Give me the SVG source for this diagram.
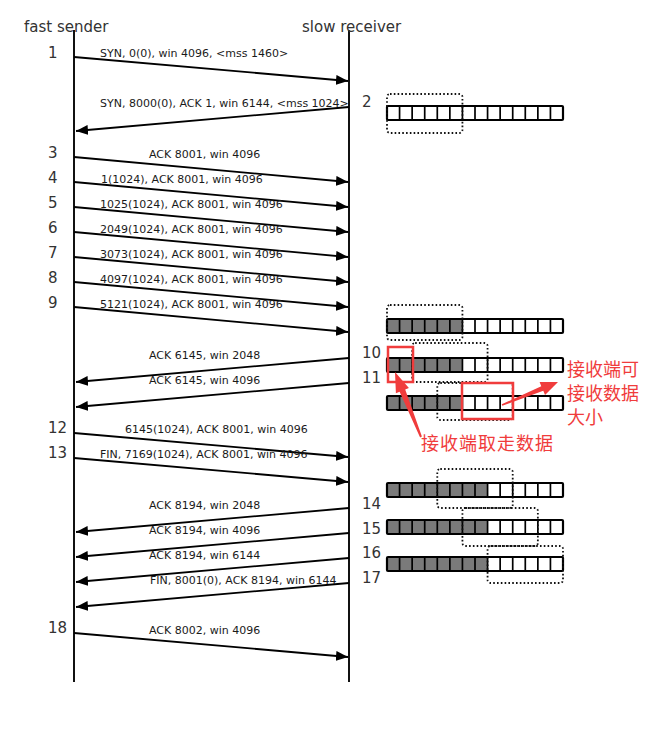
<svg xmlns="http://www.w3.org/2000/svg" xmlns:xlink="http://www.w3.org/1999/xlink" width="656" height="736" viewBox="0 0 656 736">
<style>
.hdr{font-family:"DejaVu Sans","Liberation Sans",sans-serif;font-size:15px;fill:#333}
.num{font-family:"DejaVu Sans","Liberation Sans",sans-serif;font-size:15px;fill:#333}
.lbl{font-family:"DejaVu Sans","Liberation Sans",sans-serif;font-size:11px;fill:#1a1a1a}
.life{stroke:#111;stroke-width:2;fill:none}
.msg{stroke:#000;stroke-width:1.8;fill:none;marker-end:url(#ah)}
.buf{fill:#fff}
.used{fill:#7a7a7a}
.grid{fill:none;stroke:#000;stroke-width:1.7}
.outer{fill:none;stroke:#000;stroke-width:2.2}
.win{fill:none;stroke:#111;stroke-width:1.8;stroke-dasharray:1.6 2.2}
.red{fill:none;stroke:#f03c3c;stroke-width:2.5}
.rtxt{font-family:"Noto Sans CJK SC","DejaVu Sans",sans-serif;font-size:18px;fill:#f03c3c}
.rarrow{fill:#f03c3c}
</style>
<defs>
<marker id="ah" markerUnits="userSpaceOnUse" markerWidth="13" markerHeight="10" refX="12" refY="5" orient="auto">
<path d="M0,0 L12,5 L0,10 z" fill="#000"/>
</marker>
<g id="cells">
<path class="grid" d="M399.57,0V14M412.14,0V14M424.71,0V14M437.29,0V14M449.86,0V14M462.43,0V14M475,0V14M487.57,0V14M500.14,0V14M512.71,0V14M525.29,0V14M537.86,0V14M550.43,0V14"/>
<rect class="outer" x="387" y="0" width="176" height="14" rx="1"/>
</g>
</defs>
<rect x="0" y="0" width="656" height="736" fill="#fff"/>

<g id="lifelines">
<line class="life" x1="74" y1="30" x2="74" y2="682"/>
<line class="life" x1="349" y1="30" x2="349" y2="682"/>
</g>

<g id="sender">
<text class="hdr" x="24" y="32">fast sender</text>
</g>
<g id="receiver">
<text class="hdr" x="302" y="32">slow receiver</text>
</g>

<g id="connectors">
<line class="msg" x1="74" y1="57" x2="348" y2="81"/>
<line class="msg" x1="349" y1="107" x2="76" y2="131"/>
<line class="msg" x1="74" y1="157" x2="348" y2="182"/>
<line class="msg" x1="74" y1="182" x2="348" y2="207"/>
<line class="msg" x1="74" y1="207" x2="348" y2="232"/>
<line class="msg" x1="74" y1="232" x2="348" y2="257"/>
<line class="msg" x1="74" y1="257" x2="348" y2="282"/>
<line class="msg" x1="74" y1="282" x2="348" y2="307"/>
<line class="msg" x1="74" y1="307" x2="348" y2="332"/>
<line class="msg" x1="349" y1="358" x2="76" y2="382"/>
<line class="msg" x1="349" y1="383" x2="76" y2="407"/>
<line class="msg" x1="74" y1="433" x2="348" y2="457"/>
<line class="msg" x1="74" y1="458" x2="348" y2="482"/>
<line class="msg" x1="349" y1="508" x2="76" y2="532"/>
<line class="msg" x1="349" y1="533" x2="76" y2="557"/>
<line class="msg" x1="349" y1="558" x2="76" y2="582"/>
<line class="msg" x1="349" y1="583" x2="76" y2="607"/>
<line class="msg" x1="74" y1="633" x2="348" y2="657"/>
</g>

<g id="labels">
<text class="lbl" x="100" y="57">SYN, 0(0), win 4096, &lt;mss 1460&gt;</text>
<text class="lbl" x="100" y="107">SYN, 8000(0), ACK 1, win 6144, &lt;mss 1024&gt;</text>
<text class="lbl" x="149" y="158">ACK 8001, win 4096</text>
<text class="lbl" x="101" y="183">1(1024), ACK 8001, win 4096</text>
<text class="lbl" x="100" y="208">1025(1024), ACK 8001, win 4096</text>
<text class="lbl" x="100" y="233">2049(1024), ACK 8001, win 4096</text>
<text class="lbl" x="100" y="258">3073(1024), ACK 8001, win 4096</text>
<text class="lbl" x="100" y="283">4097(1024), ACK 8001, win 4096</text>
<text class="lbl" x="100" y="308">5121(1024), ACK 8001, win 4096</text>
<text class="lbl" x="149" y="359">ACK 6145, win 2048</text>
<text class="lbl" x="149" y="384">ACK 6145, win 4096</text>
<text class="lbl" x="125" y="433">6145(1024), ACK 8001, win 4096</text>
<text class="lbl" x="100" y="458">FIN, 7169(1024), ACK 8001, win 4096</text>
<text class="lbl" x="149" y="509">ACK 8194, win 2048</text>
<text class="lbl" x="149" y="534">ACK 8194, win 4096</text>
<text class="lbl" x="149" y="559">ACK 8194, win 6144</text>
<text class="lbl" x="150" y="584">FIN, 8001(0), ACK 8194, win 6144</text>
<text class="lbl" x="149" y="634">ACK 8002, win 4096</text>
</g>

<g id="numbers">
<text class="num" x="48" y="57.5">1</text>
<text class="num" x="362" y="107">2</text>
<text class="num" x="48" y="157.5">3</text>
<text class="num" x="48" y="182.5">4</text>
<text class="num" x="48" y="207.5">5</text>
<text class="num" x="48" y="232.5">6</text>
<text class="num" x="48" y="257.5">7</text>
<text class="num" x="48" y="282.5">8</text>
<text class="num" x="48" y="307.5">9</text>
<text class="num" x="362" y="358">10</text>
<text class="num" x="362" y="383">11</text>
<text class="num" x="48" y="433">12</text>
<text class="num" x="48" y="458">13</text>
<text class="num" x="362" y="508.5">14</text>
<text class="num" x="362" y="533.5">15</text>
<text class="num" x="362" y="558">16</text>
<text class="num" x="362" y="583">17</text>
<text class="num" x="48" y="633">18</text>
</g>

<g id="buffer2">
<rect class="buf" x="387" y="106" width="176" height="14"/>
<use xlink:href="#cells" href="#cells" y="106"/>
<rect class="win" x="387" y="94" width="75.43" height="39" rx="3"/>
</g>
<g id="bufferA">
<rect class="buf" x="387" y="319" width="176" height="14"/>
<rect class="used" x="387" y="319" width="75.43" height="14"/>
<use xlink:href="#cells" href="#cells" y="319"/>
<rect class="win" x="387" y="305" width="75.43" height="35" rx="3"/>
</g>
<g id="bufferB">
<rect class="buf" x="387" y="358" width="176" height="14"/>
<rect class="used" x="387" y="358" width="75.43" height="14"/>
<use xlink:href="#cells" href="#cells" y="358"/>
<rect class="win" x="412.14" y="343" width="75.43" height="39" rx="3"/>
</g>
<g id="bufferC">
<rect class="buf" x="387" y="396" width="176" height="14"/>
<rect class="used" x="387" y="396" width="75.43" height="14"/>
<use xlink:href="#cells" href="#cells" y="396"/>
<rect class="win" x="437.29" y="383" width="75.43" height="37" rx="3"/>
</g>
<g id="bufferD">
<rect class="buf" x="387" y="483" width="176" height="14"/>
<rect class="used" x="387" y="483" width="100.57" height="14"/>
<use xlink:href="#cells" href="#cells" y="483"/>
<rect class="win" x="437.29" y="469" width="75.43" height="39" rx="3"/>
</g>
<g id="bufferE">
<rect class="buf" x="387" y="520" width="176" height="14"/>
<rect class="used" x="387" y="520" width="100.57" height="14"/>
<use xlink:href="#cells" href="#cells" y="520"/>
<rect class="win" x="462.43" y="508" width="75.43" height="38" rx="3"/>
</g>
<g id="bufferF">
<rect class="buf" x="387" y="557" width="176" height="14"/>
<rect class="used" x="387" y="557" width="100.57" height="14"/>
<use xlink:href="#cells" href="#cells" y="557"/>
<rect class="win" x="487.57" y="546" width="75.43" height="37" rx="3"/>
</g>

<g id="annotations">
<rect class="red" x="388" y="347" width="25" height="35"/>
<rect class="red" x="462" y="383" width="51" height="36"/>
<polygon class="rarrow" points="395,372 408.9,388 405.2,389.5 421.9,436.6 420.1,437.4 399.6,391.7 395.9,393.2"/>
<polygon class="rarrow" points="558,382 545,395 543.3,390.8 502.3,405.7 501.7,404.3 541.3,386.2 539.6,382"/>
<text class="rtxt" x="567" y="376">接收端可</text>
<text class="rtxt" x="567" y="400">接收数据</text>
<text class="rtxt" x="567" y="424">大小</text>
<text class="rtxt" x="421" y="450" textLength="132" lengthAdjust="spacing">接收端取走数据</text>
</g>
</svg>
